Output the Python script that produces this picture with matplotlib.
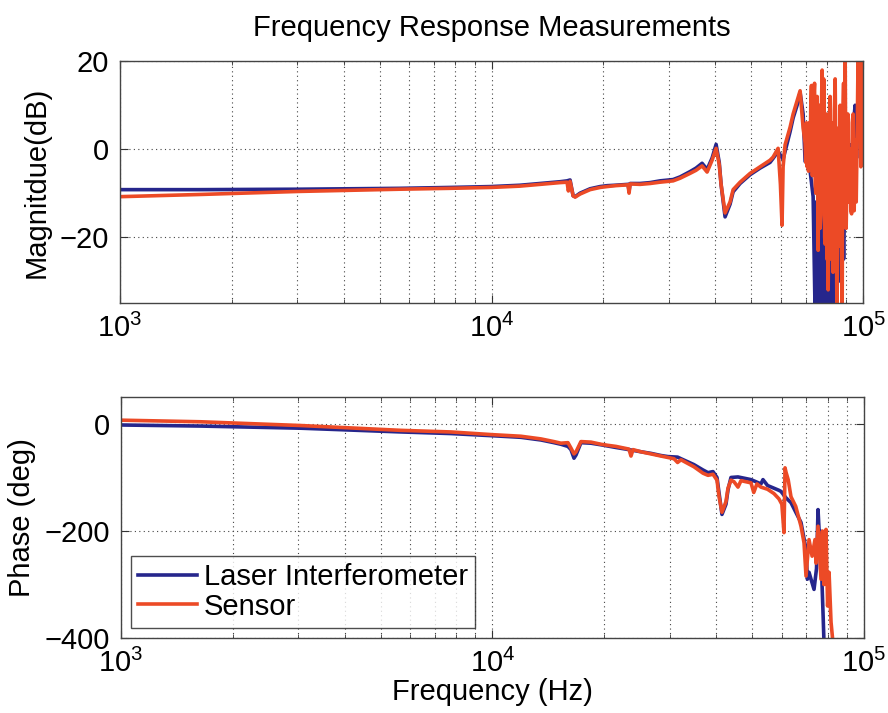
import numpy as np
import matplotlib
matplotlib.use("Agg")
import matplotlib.pyplot as plt

plt.rcParams['font.family'] = ['Liberation Sans', 'DejaVu Sans']
plt.rcParams['mathtext.fontset'] = 'custom'
plt.rcParams['mathtext.rm'] = 'Liberation Sans'

# ---- magnitude, laser interferometer (Hz, dB) ----
mag_f_li = [1000, 1642, 3051, 5672, 7732, 9970, 11930, 13510, 15290, 15970,
            16270, 16580, 16790, 17310, 18420, 19600, 20460, 21500, 23300, 23450,
            23600, 25100, 26710, 28420, 30810, 32170, 34210, 35500, 36870, 38030,
            39230, 40210, 41000, 41470, 42510, 43850, 44680, 46660, 49640, 52800,
            56170, 57230, 59040, 60900, 63600, 64800, 66420, 67670, 68950, 69810,
            71120, 72010, 73360, 74280, 74800, 75300, 75670, 76200, 76610, 77100,
            77560, 78050, 78500, 79020, 79500, 80000, 80520, 81510, 82530, 83300,
            84080, 85000, 85660, 86740, 87820, 88600, 89450, 90570, 91400, 92250,
            93100, 93980, 95160, 96000, 96940, 98150, 99000, 100000]
mag_li = [-9.2, -9.2, -9.1, -8.9, -8.7, -8.5, -8.2, -7.8, -7.4, -7.2,
          -7.0, -10.6, -10.8, -10.0, -9.0, -8.5, -8.3, -8.2, -8.0, -9.5,
          -7.8, -7.8, -7.6, -7.2, -6.9, -6.3, -5.1, -4.3, -3.2, -4.6,
          -2.0, 1.1, -3.0, -8.0, -15.4, -12.5, -9.7, -7.8, -5.8, -4.3,
          -3.0, -2.1, -0.5, -2.3, 4.0, 7.1, 10.0, 12.9, 8.0, -2.8,
          -2.3, -5.0, -10.8, -38, -12, -38, -9, -38, -12, -38,
          -14, -38, -18, -38, -20, -38, -22, -38, -10, -38,
          -15, -38, -12, -30, -8, -25, -5, 0, -7, 1,
          -7, 5, 10, -2, 12, 15, 13.8, 15]

# ---- magnitude, sensor (Hz, dB) ----
mag_f_s = [1000, 1642, 3051, 5672, 7732, 9970, 11930, 13510, 15290, 15970,
           16100, 16270, 16580, 16790, 17310, 18420, 19600, 20460, 21500, 23300,
           23450, 23600, 25100, 26710, 28420, 30810, 32170, 34210, 35500, 36870,
           38030, 39230, 40210, 41000, 41470, 42510, 43850, 44680, 46660, 49640,
           52800, 56170, 57230, 59040, 59900, 60500, 60900, 61660, 63600, 64800,
           66420, 67670, 68950, 69810, 70100, 70400, 70700, 71000, 71300, 71600,
           72010, 72300, 72600, 73000, 73360, 73700, 74000, 74300, 74600, 74900,
           75200, 75670, 76000, 76300, 76600, 77000, 77300, 77560, 78050, 78300,
           78500, 78800, 79020, 79300, 79600, 79900, 80200, 80520, 81000, 81300,
           81510, 82000, 82300, 82530, 83000, 83300, 83700, 84080, 84600, 85000,
           85300, 85660, 86200, 86500, 86740, 87300, 87820, 88200, 88600, 89000,
           89450, 90000, 90570, 91000, 91400, 91800, 92250, 92700, 93100, 93500,
           93980, 94600, 95160, 95500, 95800, 96400, 96940, 97500, 98150, 98600,
           99000, 99500, 100000]
mag_s = [-10.8, -10.3, -9.6, -9.1, -8.9, -8.7, -8.4, -8.0, -7.6, -7.5,
         -9.5, -7.3, -10.6, -10.9, -10.2, -9.2, -8.7, -8.5, -8.3, -8.1,
         -10.0, -7.9, -8.0, -7.8, -7.5, -7.2, -6.6, -5.5, -4.8, -3.8,
         -5.2, -2.5, 0.2, -3.5, -8.0, -14.5, -12.0, -9.2, -7.5, -5.5,
         -4.0, -2.5, -1.8, 0.2, -8.0, -17.3, -4.0, 1.0, 5.0, 8.0,
         11.0, 13.3, 4.8, 1.4, -3, 6, -4, 5, -5, 6,
         -3, 10, 14.5, -6, -1.6, 12, 15, -8, -10, 9,
         12, -23, 4, 10, -18, -15, 11, 18, -8, 16,
         14, -20, -21.6, 3, 8, -25, -12, -32, -5, 10,
         12, -25, 6, 5, -28, -20, 9, 16, -10, -36,
         2, -15, 5, -22, 10, -20, -36, 8, 15, -12,
         22, -18, -5, 8, -12, -3, 0, -14, -14.7, 6,
         8, -14, 2, -10, -12, 4, 22, 5, 22, -4,
         12, 20, 19]

# ---- phase, laser interferometer (Hz, deg) ----
ph_f_li = [1000, 1642, 3051, 5672, 7732, 9970, 11930, 13510, 14640, 15290,
           15970, 16270, 16580, 16790, 17310, 18420, 19600, 21500, 23300, 25100,
           26710, 28420, 29680, 31500, 32170, 34860, 36870, 38030, 39230, 40210,
           40710, 41470, 42510, 43050, 43850, 45800, 49640, 52800, 53460, 55000,
           59040, 59770, 61660, 63600, 66420, 67670, 69810, 70400, 71120, 72010,
           73360, 74500, 75200, 75670, 76610, 77100, 77560, 78050]
ph_li = [-2, -4, -8, -15, -18, -22, -25, -30, -35, -38,
         -42, -48, -64, -58, -35, -36, -39, -44, -48, -52,
         -55, -59, -61, -62, -65, -76, -86, -91, -89, -100,
         -128, -169, -150, -123, -100, -99, -104, -112, -104, -115,
         -124, -126, -138, -147, -173, -184, -234, -290, -277, -290,
         -309, -270, -160, -197, -203, -300, -352, -410]

# ---- phase, sensor (Hz, deg) ----
ph_f_s = [1000, 1642, 3051, 5672, 7732, 9970, 11930, 13510, 14640, 15290,
          15970, 16270, 16580, 16790, 17310, 18420, 19600, 20460, 21500, 23300,
          23600, 23900, 25100, 26710, 28420, 30810, 31500, 32170, 34860, 36870,
          38030, 39230, 40210, 40710, 41470, 42510, 43050, 43850, 44680, 45800,
          46660, 49640, 50500, 51500, 52800, 55000, 57230, 59040, 60100, 60900,
          61300, 61660, 62500, 63600, 65500, 67670, 68950, 69810, 71120, 72500,
          73800, 74280, 75200, 76610, 77300, 78000, 79020, 79800, 80520, 81510,
          82530]
ph_s = [7, 4, -3, -12, -15, -20, -23, -28, -33, -36,
        -35, -45, -56, -52, -33, -34, -38, -40, -42, -47,
        -60, -48, -52, -56, -60, -65, -72, -67, -80, -92,
        -96, -94, -105, -135, -165, -145, -120, -105, -108, -118,
        -106, -110, -128, -112, -118, -122, -130, -140, -150, -203,
        -82, -90, -104, -136, -154, -191, -222, -284, -216, -247,
        -216, -260, -191, -290, -200, -300, -197, -340, -277, -370,
        -410]

blue = '#26268c'
red = '#ec4a26'

fig = plt.figure(figsize=(8.88, 7.13), dpi=100)
ax1 = fig.add_axes([0.135, 0.575, 0.837, 0.339])
ax2 = fig.add_axes([0.136, 0.105, 0.837, 0.338])

ax1.semilogx(mag_f_li, mag_li, color=blue, lw=2.6)
ax1.semilogx(mag_f_s, mag_s, color=red, lw=2.6)
ax2.semilogx(ph_f_li, ph_li, color=blue, lw=2.6, label='Laser Interferometer')
ax2.semilogx(ph_f_s, ph_s, color=red, lw=2.6, label='Sensor')

ax1.set_ylim(-35, 20)
ax1.set_yticks([-20, 0, 20])
ax2.set_ylim(-400, 50)
ax2.set_yticks([-400, -200, 0])

for ax in (ax1, ax2):
    ax.set_xlim(1e3, 1e5)
    ax.grid(True, which='both', axis='x', linestyle=(0, (1, 3)), color='#444444', lw=0.8)
    ax.grid(True, which='major', axis='y', linestyle=(0, (1, 3)), color='#444444', lw=0.8)
    ax.tick_params(which='both', direction='in', top=True, right=True,
                   labelsize=21, color='#333333', pad=8)
    ax.tick_params(which='major', length=6)
    ax.tick_params(which='minor', length=3)
    for s in ax.spines.values():
        s.set_color('#444444')
        s.set_linewidth(1.0)

ax1.set_title('Frequency Response Measurements', fontsize=21, pad=18)
ax1.set_ylabel('Magnitdue(dB)', fontsize=21, labelpad=6)
ax2.set_ylabel('Phase (deg)', fontsize=21, labelpad=6)
ax2.set_xlabel('Frequency (Hz)', fontsize=21, labelpad=0)

leg = ax2.legend(loc='lower left', fontsize=21, frameon=True, fancybox=False,
                 handlelength=2.0, handletextpad=0.25, borderaxespad=0.35,
                 borderpad=0.25, labelspacing=0.05)
leg.get_frame().set_edgecolor('#222222')
leg.get_frame().set_linewidth(1.0)

fig.savefig('out.png', dpi=100)
